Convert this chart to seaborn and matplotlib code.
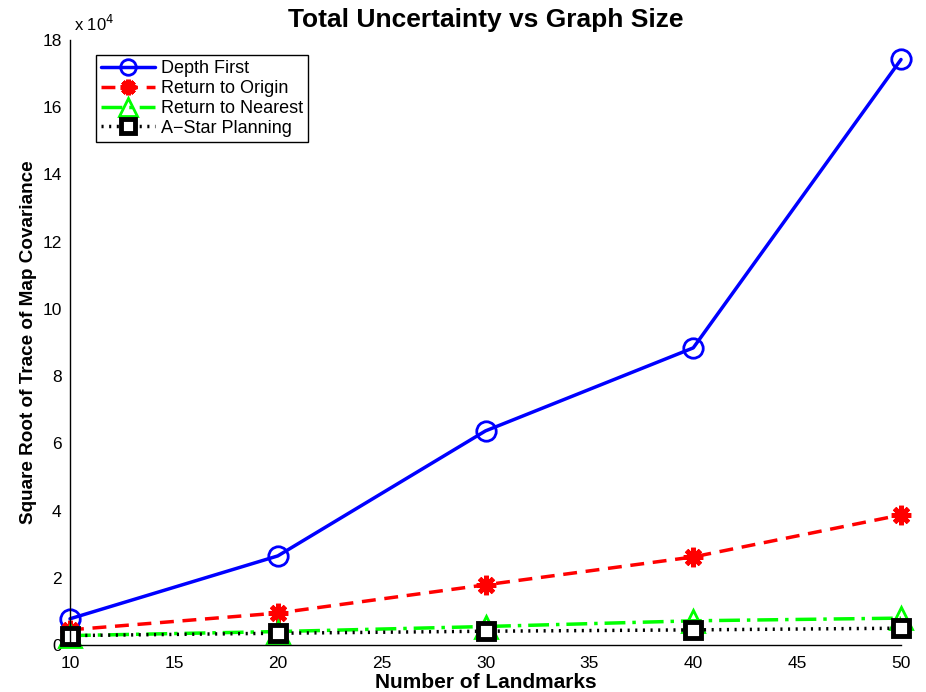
import matplotlib
matplotlib.use("Agg")
import matplotlib.pyplot as plt
import seaborn as sns
import pandas as pd

landmarks = [10, 20, 30, 40, 50]
depth_first = [0.78, 2.65, 6.37, 8.84, 17.42]
return_origin = [0.45, 0.95, 1.79, 2.62, 3.87]
return_nearest = [0.28, 0.40, 0.55, 0.72, 0.80]
astar = [0.28, 0.35, 0.41, 0.45, 0.50]
series_names = ["Depth First", "Return to Origin", "Return to Nearest", "A\u2212Star Planning"]
x_ticks = [10, 15, 20, 25, 30, 35, 40, 45, 50]
y_ticks = [0, 2, 4, 6, 8, 10, 12, 14, 16, 18]

sns.set_theme(style="white")
plt.rcParams['font.family'] = ['Liberation Sans', 'DejaVu Sans']
plt.rcParams['text.color'] = 'black'
plt.rcParams['axes.labelcolor'] = 'black'

fig = plt.figure(figsize=(9.26, 6.92), dpi=100)
ax = fig.add_axes([70/926, 1-645/692, (901-70)/926, (645-40)/692])

styles = [
    dict(color="#0000ff", linestyle="-", marker="o", markersize=14, markerfacecolor="none",
         markeredgecolor="#0000ff", markeredgewidth=2),
    dict(color="#ff0000", linestyle=(0, (4, 2.5)), marker=(8, 2, 0), markersize=14,
         markeredgecolor="#ff0000", markeredgewidth=3.5),
    dict(color="#00ff00", linestyle=(0, (6, 2, 1, 2)), marker="^", markersize=16, markerfacecolor="none",
         markeredgecolor="#00ff00", markeredgewidth=2),
    dict(color="#000000", linestyle=(0, (0.6, 1.6)), marker="s", markersize=12, markerfacecolor="white",
         markeredgecolor="#000000", markeredgewidth=3.5),
]
data = [depth_first, return_origin, return_nearest, astar]
for name, vals, st in zip(series_names, data, styles):
    df = pd.DataFrame({"x": landmarks, "y": vals})
    sns.lineplot(data=df, x="x", y="y", ax=ax, linewidth=2.5, legend=False, **st)

ax.set_xlim(10, 50)
ax.set_ylim(0, 18)
ax.set_xticks(x_ticks)
ax.set_yticks(y_ticks)
ax.tick_params(direction="in", length=5, width=1, labelsize=12.5, colors="black")
ax.tick_params(axis="x", pad=8)
ax.tick_params(axis="y", pad=6)
for ln in ax.get_lines():
    ln.set_clip_on(False)
for s in ["top", "right"]:
    ax.spines[s].set_visible(False)
for s in ["left", "bottom"]:
    ax.spines[s].set_color("black")
    ax.spines[s].set_linewidth(1)

ax.set_xlabel("Number of Landmarks", fontsize=15, fontweight="bold", labelpad=1)
ax.set_ylabel("Square Root of Trace of Map Covariance", fontsize=13.6, fontweight="bold", labelpad=4)
ax.set_title("Total Uncertainty vs Graph Size", fontsize=19, fontweight="bold", pad=9)
ax.text(0.005, 1.01, "x 10$^4$", transform=ax.transAxes, fontsize=12, ha="left", va="bottom")

leg = ax.legend(ax.get_lines(), series_names, loc="upper left", bbox_to_anchor=(0.02, 0.99), fontsize=13,
                frameon=True, fancybox=False, edgecolor="black", framealpha=1, borderpad=0.3,
                labelspacing=0.15, handlelength=3.0, handletextpad=0.3, markerscale=0.8)
leg.get_frame().set_linewidth(1)

fig.savefig("out.png", dpi=100)
